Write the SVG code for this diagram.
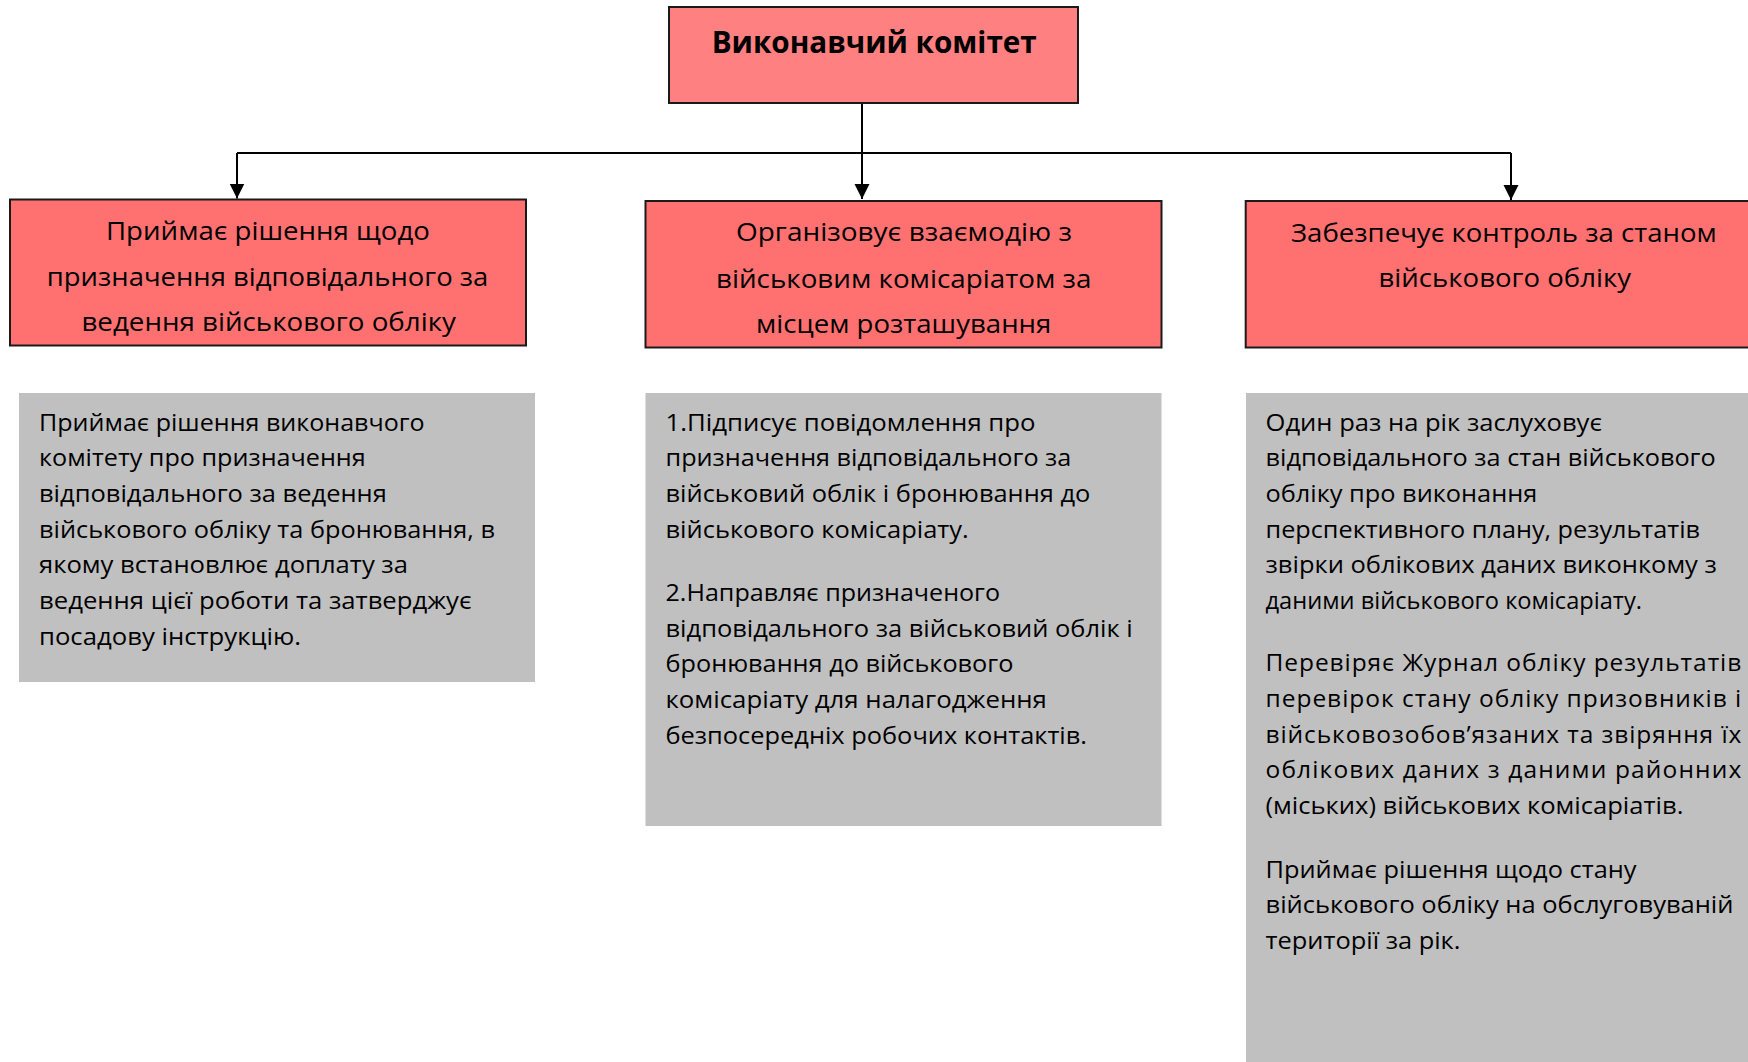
<svg xmlns="http://www.w3.org/2000/svg" width="1748" height="1062" viewBox="0 0 1748 1062">
<style>
.red{fill:#FF7171;stroke:#1a1a1a;stroke-width:2}
.top{fill:#FF8080;stroke:#1a1a1a;stroke-width:2}
.gray{fill:#C0C0C0}
.conn{fill:none;stroke:#000;stroke-width:2}
text{font-family:"Open Sans","Noto Sans","DejaVu Sans",sans-serif;fill:#000}
.t{font-size:26px}
.g{font-size:24.5px}
.b{font-size:31px;font-weight:bold}
</style>
<defs>
<marker id="ah" markerUnits="userSpaceOnUse" markerWidth="16" markerHeight="16" refX="15" refY="7.5" orient="auto">
<path d="M0,0 L15,7.5 L0,15 Z" fill="#000"/>
</marker>
</defs>
<rect width="1748" height="1062" fill="#fff"/>
<g id="connectors">
<path class="conn" d="M862,103 V199" marker-end="url(#ah)"/>
<path class="conn" d="M237,153 H1511"/>
<path class="conn" d="M237,153 V198.5" marker-end="url(#ah)"/>
<path class="conn" d="M1511,153 V200" marker-end="url(#ah)"/>
</g>
<g id="top">
<rect class="top" x="669" y="7" width="409" height="96"/>
<text class="b" x="711.7" y="53" textLength="325" lengthAdjust="spacingAndGlyphs">Виконавчий комітет</text>
</g>
<g id="node-left">
<rect class="red" x="10" y="199.5" width="516" height="146"/>
<text class="t" x="106" y="240" textLength="324" lengthAdjust="spacingAndGlyphs">Приймає рішення щодо</text>
<text class="t" x="46.8" y="285.7" textLength="441.5" lengthAdjust="spacingAndGlyphs">призначення відповідального за</text>
<text class="t" x="81.4" y="331" textLength="374.5" lengthAdjust="spacingAndGlyphs">ведення військового обліку</text>
</g>
<g id="node-middle">
<rect class="red" x="645.5" y="201" width="516" height="146.5"/>
<text class="t" x="736" y="241" textLength="336" lengthAdjust="spacingAndGlyphs">Організовує взаємодію з</text>
<text class="t" x="716" y="287.5" textLength="375.4" lengthAdjust="spacingAndGlyphs">військовим комісаріатом за</text>
<text class="t" x="756" y="333" textLength="295.3" lengthAdjust="spacingAndGlyphs">місцем розташування</text>
</g>
<g id="node-right">
<rect class="red" x="1245.7" y="201" width="520" height="146.5"/>
<text class="t" x="1291" y="241.5" textLength="425.8" lengthAdjust="spacingAndGlyphs">Забезпечує контроль за станом</text>
<text class="t" x="1378.5" y="286.7" textLength="252.5" lengthAdjust="spacingAndGlyphs">військового обліку</text>
</g>
<g id="detail-left">
<rect class="gray" x="19" y="393" width="516" height="289"/>
<text class="g" x="39" y="430.5" textLength="385.7" lengthAdjust="spacingAndGlyphs">Приймає рішення виконавчого</text>
<text class="g" x="39" y="466" textLength="326.7" lengthAdjust="spacingAndGlyphs">комітету про призначення</text>
<text class="g" x="39" y="502" textLength="347.8" lengthAdjust="spacingAndGlyphs">відповідального за ведення</text>
<text class="g" x="39" y="537.5" textLength="456" lengthAdjust="spacingAndGlyphs">військового обліку та бронювання, в</text>
<text class="g" x="39" y="573.2" textLength="369" lengthAdjust="spacingAndGlyphs">якому встановлює доплату за</text>
<text class="g" x="39" y="608.9" textLength="432.6" lengthAdjust="spacingAndGlyphs">ведення цієї роботи та затверджує</text>
<text class="g" x="39" y="645" textLength="262" lengthAdjust="spacingAndGlyphs">посадову інструкцію.</text>
</g>
<g id="detail-middle">
<rect class="gray" x="645.5" y="393" width="516" height="433"/>
<text class="g" x="665.5" y="430.5" textLength="370" lengthAdjust="spacingAndGlyphs">1.Підписує повідомлення про</text>
<text class="g" x="665.5" y="466" textLength="405.8" lengthAdjust="spacingAndGlyphs">призначення відповідального за</text>
<text class="g" x="665.5" y="502" textLength="424.8" lengthAdjust="spacingAndGlyphs">військовий облік і бронювання до</text>
<text class="g" x="665.5" y="537.5" textLength="303.3" lengthAdjust="spacingAndGlyphs">військового комісаріату.</text>
<text class="g" x="665.5" y="601" textLength="334.5" lengthAdjust="spacingAndGlyphs">2.Направляє призначеного</text>
<text class="g" x="665.5" y="636.5" textLength="467.1" lengthAdjust="spacingAndGlyphs">відповідального за військовий облік і</text>
<text class="g" x="665.5" y="672" textLength="347.9" lengthAdjust="spacingAndGlyphs">бронювання до військового</text>
<text class="g" x="665.5" y="707.5" textLength="381.3" lengthAdjust="spacingAndGlyphs">комісаріату для налагодження</text>
<text class="g" x="665.5" y="743.5" textLength="421.5" lengthAdjust="spacingAndGlyphs">безпосередніх робочих контактів.</text>
</g>
<g id="detail-right">
<rect class="gray" x="1246" y="393" width="502" height="669"/>
<text class="g" x="1265.5" y="430.5" textLength="336.5" lengthAdjust="spacingAndGlyphs">Один раз на рік заслуховує</text>
<text class="g" x="1265.5" y="466" textLength="450.2" lengthAdjust="spacingAndGlyphs">відповідального за стан військового</text>
<text class="g" x="1265.5" y="502" textLength="271.8" lengthAdjust="spacingAndGlyphs">обліку про виконання</text>
<text class="g" x="1265.5" y="537.5" textLength="434.5" lengthAdjust="spacingAndGlyphs">перспективного плану, результатів</text>
<text class="g" x="1265.5" y="573.2" textLength="451.3" lengthAdjust="spacingAndGlyphs">звірки облікових даних виконкому з</text>
<text class="g" x="1265.5" y="608.9" textLength="376.5" lengthAdjust="spacingAndGlyphs">даними військового комісаріату.</text>
<text class="g" x="1265.5" y="671.3" textLength="475.8" lengthAdjust="spacing">Перевіряє Журнал обліку результатів</text>
<text class="g" x="1265.5" y="707" textLength="475.8" lengthAdjust="spacing">перевірок стану обліку призовників і</text>
<text class="g" x="1265.5" y="742.6" textLength="475.8" lengthAdjust="spacing">військовозобов’язаних та звіряння їх</text>
<text class="g" x="1265.5" y="778.3" textLength="475.8" lengthAdjust="spacing">облікових даних з даними районних</text>
<text class="g" x="1265.5" y="814" textLength="417.9" lengthAdjust="spacingAndGlyphs">(міських) військових комісаріатів.</text>
<text class="g" x="1265.5" y="877.5" textLength="371" lengthAdjust="spacingAndGlyphs">Приймає рішення щодо стану</text>
<text class="g" x="1265.5" y="913.2" textLength="468" lengthAdjust="spacingAndGlyphs">військового обліку на обслуговуваній</text>
<text class="g" x="1265.5" y="948.9" textLength="194.9" lengthAdjust="spacingAndGlyphs">території за рік.</text>
</g>
</svg>
